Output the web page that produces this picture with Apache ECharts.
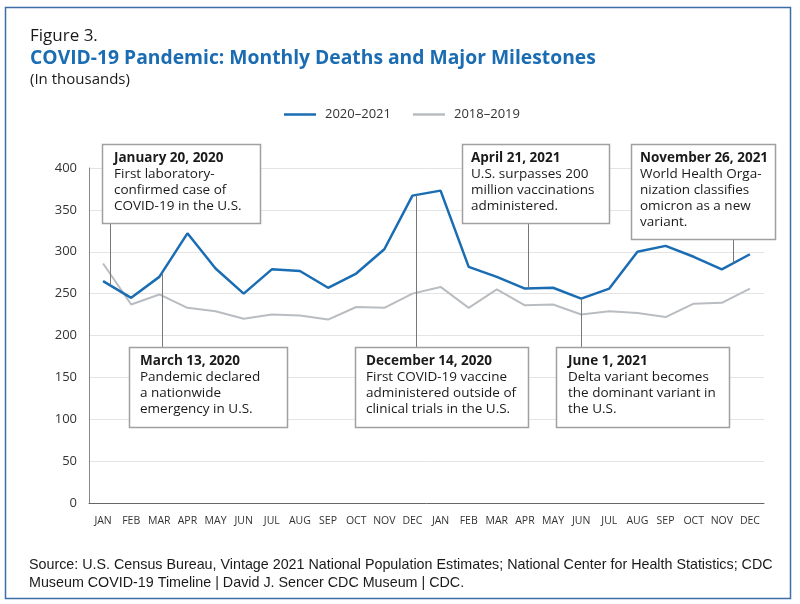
<!DOCTYPE html>
<html lang="en">
<head>
    <meta charset="UTF-8">
    <title>COVID-19 Pandemic: Monthly Deaths and Major Milestones</title>
    <script type="text/javascript" src="https://cdn.jsdelivr.net/npm/echarts@6.0.0/dist/echarts.min.js"></script>
</head>
<style>
    html, body { margin: 0; padding: 0; background: #fff; }
    #container { width: 800px; height: 604px; }
</style>
<body>
<div id="container"></div>
<script>
    // data (thousands of deaths per month)
    var months = ['JAN', 'FEB', 'MAR', 'APR', 'MAY', 'JUN', 'JUL', 'AUG', 'SEP', 'OCT', 'NOV', 'DEC',
        'JAN', 'FEB', 'MAR', 'APR', 'MAY', 'JUN', 'JUL', 'AUG', 'SEP', 'OCT', 'NOV', 'DEC'];
    var deaths2020_2021 = [265, 245, 270, 322, 280, 250, 279, 277, 257, 274, 303, 367,
        373, 282, 270, 256, 257, 244, 256, 300, 307, 294, 279, 297];
    var deaths2018_2019 = [286, 237, 249, 233, 229, 220, 225, 224, 219, 234, 233, 250,
        258, 233, 255, 236, 237, 225, 229, 227, 222, 238, 239, 256];
    var yTicks = [0, 50, 100, 150, 200, 250, 300, 350, 400];

    // milestones: position along the month axis (index + part of month)
    var milestoneAt = [0.24, 2.09, 11.12, 15.12, 17.0, 22.4];
    var milestoneDates = ['January 20, 2020', 'March 13, 2020', 'December 14, 2020',
        'April 21, 2021', 'June 1, 2021', 'November 26, 2021'];
    var milestoneTexts = [
        ['First laboratory-', 'confirmed case of', 'COVID-19 in the U.S.'],
        ['Pandemic declared', 'a nationwide', 'emergency in U.S.'],
        ['First COVID-19 vaccine', 'administered outside of', 'clinical trials in the U.S.'],
        ['U.S. surpasses 200', 'million vaccinations', 'administered.'],
        ['Delta variant becomes', 'the dominant variant in', 'the U.S.'],
        ['World Health Orga-', 'nization classifies', 'omicron as a new', 'variant.']
    ];
    // box layout [x, y, w, h, text padding]
    var boxes = [
        [102, 144, 158, 79, 12],
        [129, 347, 158, 80, 11],
        [355, 347, 173, 80, 11],
        [462, 144, 147, 79, 9],
        [556, 347, 173, 80, 12],
        [631, 144, 144, 95, 9]
    ];

    var FONT = '"Open Sans", sans-serif';
    var BLUE = '#1a6cb3';

    var chart = echarts.init(document.getElementById('container'));

    var option = {
        animation: false,
        backgroundColor: '#fff',
        title: [
            {text: 'Figure 3.', left: 25, top: 23,
                textStyle: {fontFamily: FONT, fontSize: 17, fontWeight: 'normal', color: '#1a1a1a'}},
            {text: 'COVID-19 Pandemic: Monthly Deaths and Major Milestones', left: 25, top: 44,
                textStyle: {fontFamily: FONT, fontSize: 19.3, fontWeight: 'bold', color: BLUE}},
            {text: '(In thousands)', left: 25, top: 67,
                textStyle: {fontFamily: FONT, fontSize: 15, fontWeight: 'normal', color: '#1a1a1a'}},
            {text: 'Source: U.S. Census Bureau, Vintage 2021 National Population Estimates; National Center for Health Statistics; CDC\nMuseum COVID-19 Timeline | David J. Sencer CDC Museum | CDC.',
                left: 24, top: 551,
                textStyle: {fontFamily: '"Liberation Sans", sans-serif', fontSize: 14.3, fontWeight: 'normal',
                    color: '#1a1a1a', lineHeight: 18}}
        ],
        legend: {
            left: 279, top: 103,
            icon: 'rect',
            itemWidth: 32, itemHeight: 2.5, itemGap: 22,
            textStyle: {fontFamily: FONT, fontSize: 13, color: '#333', padding: [0, 0, 0, 4]},
            data: ['2020–2021', '2018–2019']
        },
        grid: {left: 89, right: 36, top: 168, bottom: 101},
        xAxis: {
            type: 'category',
            data: months,
            boundaryGap: true,
            axisLine: {lineStyle: {color: '#666', width: 1}},
            axisTick: {alignWithLabel: true, inside: true, length: 8, lineStyle: {color: '#666'}},
            axisLabel: {fontFamily: FONT, fontSize: 10.5, color: '#333', margin: 13, interval: 0}
        },
        yAxis: {
            type: 'value',
            min: yTicks[0],
            max: yTicks[yTicks.length - 1],
            interval: 50,
            axisLine: {show: true, lineStyle: {color: '#888'}},
            axisTick: {show: false},
            axisLabel: {fontFamily: FONT, fontSize: 13, color: '#333', margin: 12},
            splitLine: {lineStyle: {color: '#e4e4e4'}}
        },
        series: [
            {
                name: '2018–2019', type: 'line', data: deaths2018_2019,
                symbol: 'none', z: 2,
                lineStyle: {color: '#b9bdc1', width: 2},
                itemStyle: {color: '#b9bdc1'}
            },
            {
                name: '2020–2021', type: 'line', data: deaths2020_2021,
                symbol: 'none', z: 3,
                lineStyle: {color: BLUE, width: 2.5},
                itemStyle: {color: BLUE}
            }
        ]
    };

    chart.setOption(option);

    // annotation boxes with leader lines to the 2020–2021 line
    var x0 = chart.convertToPixel({xAxisIndex: 0}, 0);
    var band = chart.convertToPixel({xAxisIndex: 0}, 1) - x0;
    var graphics = [{
        type: 'rect', z: 200, silent: true,
        shape: {x: 5.5, y: 7.5, width: 785, height: 591},
        style: {fill: 'none', stroke: '#3d6ea6', lineWidth: 1.5}
    }];

    milestoneAt.forEach(function (pos, i) {
        var k = Math.floor(pos), f = pos - k;
        var next = Math.min(k + 1, deaths2020_2021.length - 1);
        var v = deaths2020_2021[k] + f * (deaths2020_2021[next] - deaths2020_2021[k]);
        var px = Math.round(x0 + pos * band) + 0.5;
        var py = chart.convertToPixel({yAxisIndex: 0}, v);
        var b = boxes[i];
        var above = b[1] + b[3] < py;
        graphics.push({
            type: 'line', z: 90, silent: true,
            shape: {x1: px, y1: above ? b[1] + b[3] : py, x2: px, y2: above ? py : b[1]},
            style: {stroke: '#777', lineWidth: 1}
        });
        graphics.push({
            type: 'rect', z: 100, silent: true,
            shape: {x: b[0] + 0.5, y: b[1] + 0.5, width: b[2], height: b[3]},
            style: {fill: '#fff', stroke: '#a0a0a0', lineWidth: 1.5}
        });
        graphics.push({
            type: 'text', z: 101, silent: true,
            x: b[0] + b[4], y: b[1] + 6,
            style: {
                text: '{d|' + milestoneDates[i] + '}\n' + milestoneTexts[i].join('\n'),
                fontFamily: FONT, fontSize: 13.5, lineHeight: 16, fill: '#1a1a1a',
                verticalAlign: 'top', align: 'left',
                rich: {d: {fontFamily: FONT, fontSize: 13.5, lineHeight: 16, fontWeight: 'bold', fill: '#1a1a1a'}}
            }
        });
    });

    chart.setOption({graphic: graphics});
</script>
</body>
</html>
